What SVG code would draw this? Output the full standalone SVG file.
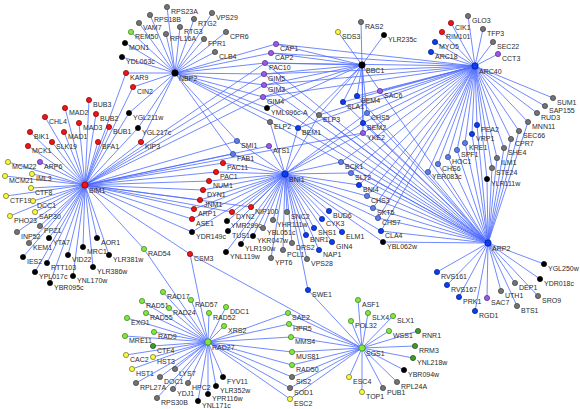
<svg xmlns="http://www.w3.org/2000/svg" width="580" height="409" viewBox="0 0 580 409">
<style>
.e{fill:none;stroke:#4d6bff;stroke-width:0.8}
circle{r:2.6;stroke-width:0.7}
.h circle{r:3.2}
text{font-family:"Liberation Sans",Arial,sans-serif;font-size:7px;fill:#2a2a2a}
.gy circle{fill:#737373;stroke:#3c3c3c}
.k circle{fill:#000;stroke:#000}
.r circle{fill:#f01414;stroke:#7a0000}
.gn circle{fill:#7ee83c;stroke:#3d7a1c}
.dg circle{fill:#3f9a2a;stroke:#1f4d14}
.yl circle{fill:#f8f83c;stroke:#6e6e20}
.b circle{fill:#0b3df2;stroke:#001a80}
.lb circle{fill:#5c7de8;stroke:#2a3f8a}
.p circle{fill:#9a5ae8;stroke:#4c2a80}
</style>
<rect width="580" height="409" fill="#fff"/>
<g id="connectors">
<path class="e" d="M175 73L167 7M175 73L212 13M175 73L150 15M175 73L139 23M175 73L194 19M175 73L180 27M175 73L166 34M175 73L204 39M175 73L226 32M175 73L215 52M175 73L131 32M175 73L125 43M175 73L122 57M175 73L126 73M175 73L133 87M175 73L129 113M175 73L138 128M175 73L141 142M175 73L276 44M175 73L271 53M175 73L265 63M175 73L264 74M175 73L264 85M175 73L263 97M175 73L267 108M175 73L270 122M175 73L237 141M175 73L233 154M175 73L298 128"/>
<path class="e" d="M85 185L89 100M85 185L65 108M85 185L96 114M85 185L45 117M85 185L79 123M85 185L109 127M85 185L30 132M85 185L64 132M85 185L28 146M85 185L52 142M85 185L98 142M85 185L141 142M85 185L129 113M85 185L138 128M85 185L8 162M85 185L40 162M85 185L5 176M85 185L32 174M85 185L31 188M85 185L6 196M85 185L33 201M85 185L35 212M85 185L10 216M85 185L40 226M85 185L17 232M85 185L49 238M85 185L29 243M85 185L97 238M85 185L83 247M85 185L68 255M85 185L109 255M85 185L23 257M85 185L47 263M85 185L93 267M85 185L35 272M85 185L73 276M85 185L50 283M85 185L126 73M85 185L133 87M85 185L237 141M85 185L233 154M85 185L269 146M85 185L223 163M85 185L216 172M85 185L209 181M85 185L203 190M85 185L200 200M85 185L194 209M85 185L192 219M85 185L251 207M85 185L232 212M85 185L192 232M85 185L144 249M85 185L190 254M85 185L265 63M85 185L264 74M85 185L264 85M85 185L263 97M85 185L363 133"/>
<path class="e" d="M285 174L237 141M285 174L269 146M285 174L233 154M285 174L223 163M285 174L216 172M285 174L209 181M285 174L203 190M285 174L200 200M285 174L194 209M285 174L192 219M285 174L251 207M285 174L232 212M285 174L192 232M285 174L227 221M285 174L228 231M285 174L253 236M285 174L241 244M285 174L226 252M285 174L287 212M285 174L273 220M285 174L263 228M285 174L292 243M285 174L283 250M285 174L271 258M285 174L307 259M285 174L329 211M285 174L322 219M285 174L314 228M285 174L342 232M285 174L306 235M285 174L332 242M285 174L319 250M285 174L341 162M285 174L351 173M285 174L359 185M285 174L367 196M285 174L373 208M285 174L378 218M285 174L381 231M285 174L383 242M285 174L308 290M285 174L298 128M285 174L319 115M285 174L367 113M285 174L363 123M285 174L363 133M285 174L270 122"/>
<path class="e" d="M362 65L361 22M362 65L338 32M362 65L384 35M362 65L276 44M362 65L271 53M362 65L265 63M362 65L264 74M362 65L264 85M362 65L263 97M362 65L267 108M362 65L380 91M362 65L357 96M362 65L343 102M362 65L319 115M362 65L367 113M362 65L363 123M362 65L298 128M362 65L363 133"/>
<path class="e" d="M475 66L468 16M475 66L451 23M475 66L483 29M475 66L442 32M475 66L435 42M475 66L493 42M475 66L431 52M475 66L498 54M475 66L553 98M475 66L545 106M475 66L537 113M475 66L528 122M475 66L519 131M475 66L511 139M475 66L504 148M475 66L497 158M475 66L492 168M475 66L487 179M475 66L477 125M475 66L472 134M475 66L465 143M475 66L457 150M475 66L448 157M475 66L438 164M475 66L428 172M475 66L341 162M475 66L351 173M475 66L359 185M475 66L367 196M475 66L373 208M475 66L378 218M475 66L381 231M475 66L380 91M475 66L357 96M475 66L343 102M475 66L367 113M475 66L363 123M475 66L363 133M475 66L298 128M475 66L319 115M475 66L276 44M475 66L271 53M475 66L265 63M475 66L264 74M475 66L264 85M475 66L263 97"/>
<path class="e" d="M488 243L477 125M488 243L472 134M488 243L465 143M488 243L457 150M488 243L448 157M488 243L438 164M488 243L428 172M488 243L528 122M488 243L519 131M488 243L511 139M488 243L504 148M488 243L497 158M488 243L492 168M488 243L487 179M488 243L437 272M488 243L447 285M488 243L459 297M488 243L487 298M488 243L475 311M488 243L501 291M488 243L515 283M488 243L517 306M488 243L540 279M488 243L538 296M488 243L544 264M488 243L341 162M488 243L351 173M488 243L359 185M488 243L367 196M488 243L373 208M488 243L378 218M488 243L381 231M488 243L383 242M488 243L380 91M488 243L357 96M488 243L343 102M488 243L367 113M488 243L363 123M488 243L363 133M488 243L298 128M488 243L319 115M488 243L270 122M488 243L265 63M488 243L264 74M488 243L264 85M488 243L263 97"/>
<path class="e" d="M208 342L163 292M208 342L191 300M208 342L142 301M208 342L169 308M208 342L146 313M208 342L226 307M208 342L209 313M208 342L224 326M208 342L127 318M208 342L154 332M208 342L125 336M208 342L153 346M208 342L126 355M208 342L153 357M208 342L132 369M208 342L175 369M208 342L160 377M208 342L188 383M208 342L173 389M208 342L136 383M208 342L157 398M208 342L223 377M208 342L216 386M208 342L208 394M208 342L198 401M208 342L288 313M208 342L289 324M208 342L291 337M208 342L292 352M208 342L292 365M208 342L292 377M208 342L290 388M208 342L290 399M208 342L144 249M208 342L190 254"/>
<path class="e" d="M362 348L358 300M362 348L368 313M362 348L393 316M362 348L351 321M362 348L389 331M362 348L418 331M362 348L415 346M362 348L413 358M362 348L404 370M362 348L397 382M362 348L383 388M362 348L362 392M362 348L349 377M362 348L288 313M362 348L289 324M362 348L291 337M362 348L292 352M362 348L292 365M362 348L292 377M362 348L290 388M362 348L290 399M362 348L308 290M362 348L190 254"/>
</g>
<g id="nodes">
<g id="RPS23A" class="gy"><circle cx="167" cy="7"/><text x="171" y="14">RPS23A</text></g>
<g id="VPS29" class="gy"><circle cx="212" cy="13"/><text x="216" y="20">VPS29</text></g>
<g id="RPS18B" class="gy"><circle cx="150" cy="15"/><text x="154" y="22">RPS18B</text></g>
<g id="VAM7" class="gy"><circle cx="139" cy="23"/><text x="143" y="30">VAM7</text></g>
<g id="RTG2" class="gy"><circle cx="194" cy="19"/><text x="198" y="26">RTG2</text></g>
<g id="RTG3" class="gy"><circle cx="180" cy="27"/><text x="184" y="34">RTG3</text></g>
<g id="RPL16A" class="gy"><circle cx="166" cy="34"/><text x="170" y="41">RPL16A</text></g>
<g id="FPR1" class="gy"><circle cx="204" cy="39"/><text x="208" y="46">FPR1</text></g>
<g id="CPR6" class="gy"><circle cx="226" cy="32"/><text x="230" y="39">CPR6</text></g>
<g id="CLB4" class="gy"><circle cx="215" cy="52"/><text x="219" y="59">CLB4</text></g>
<g id="REM50" class="gn"><circle cx="131" cy="32"/><text x="135" y="39">REM50</text></g>
<g id="MON1" class="k"><circle cx="125" cy="43"/><text x="129" y="50">MON1</text></g>
<g id="YDL063c" class="k"><circle cx="122" cy="57"/><text x="126" y="64">YDL063c</text></g>
<g id="KAR9" class="r"><circle cx="126" cy="73"/><text x="130" y="80">KAR9</text></g>
<g id="CIN2" class="r"><circle cx="133" cy="87"/><text x="137" y="94">CIN2</text></g>
<g id="BUB3" class="r"><circle cx="89" cy="100"/><text x="93" y="107">BUB3</text></g>
<g id="MAD2" class="r"><circle cx="65" cy="108"/><text x="69" y="115">MAD2</text></g>
<g id="BUB2" class="r"><circle cx="96" cy="114"/><text x="100" y="121">BUB2</text></g>
<g id="CHL4" class="r"><circle cx="45" cy="117"/><text x="49" y="124">CHL4</text></g>
<g id="MAD3" class="r"><circle cx="79" cy="123"/><text x="83" y="130">MAD3</text></g>
<g id="BUB1" class="r"><circle cx="109" cy="127"/><text x="113" y="134">BUB1</text></g>
<g id="BIK1" class="r"><circle cx="30" cy="132"/><text x="34" y="139">BIK1</text></g>
<g id="MAD1" class="r"><circle cx="64" cy="132"/><text x="68" y="139">MAD1</text></g>
<g id="MCK1" class="r"><circle cx="28" cy="146"/><text x="32" y="153">MCK1</text></g>
<g id="SLK19" class="r"><circle cx="52" cy="142"/><text x="56" y="149">SLK19</text></g>
<g id="BFA1" class="r"><circle cx="98" cy="142"/><text x="102" y="149">BFA1</text></g>
<g id="KIP3" class="r"><circle cx="141" cy="142"/><text x="145" y="149">KIP3</text></g>
<g id="YGL211w" class="k"><circle cx="129" cy="113"/><text x="133" y="120">YGL211w</text></g>
<g id="YGL217c" class="k"><circle cx="138" cy="128"/><text x="142" y="135">YGL217c</text></g>
<g id="MCM22" class="yl"><circle cx="8" cy="162"/><text x="12" y="169">MCM22</text></g>
<g id="ARP6" class="p"><circle cx="40" cy="162"/><text x="44" y="169">ARP6</text></g>
<g id="MCM21" class="yl"><circle cx="5" cy="176"/><text x="9" y="183">MCM21</text></g>
<g id="IML3" class="yl"><circle cx="32" cy="174"/><text x="36" y="181">IML3</text></g>
<g id="CTF8" class="yl"><circle cx="31" cy="188"/><text x="35" y="195">CTF8</text></g>
<g id="CTF19" class="yl"><circle cx="6" cy="196"/><text x="10" y="203">CTF19</text></g>
<g id="DCC1" class="yl"><circle cx="33" cy="201"/><text x="37" y="208">DCC1</text></g>
<g id="SAP30" class="yl"><circle cx="35" cy="212"/><text x="39" y="219">SAP30</text></g>
<g id="PHO23" class="yl"><circle cx="10" cy="216"/><text x="14" y="223">PHO23</text></g>
<g id="PPZ1" class="gy"><circle cx="40" cy="226"/><text x="44" y="233">PPZ1</text></g>
<g id="INP52" class="gy"><circle cx="17" cy="232"/><text x="21" y="239">INP52</text></g>
<g id="YTA7" class="k"><circle cx="49" cy="238"/><text x="53" y="245">YTA7</text></g>
<g id="KEM1" class="gy"><circle cx="29" cy="243"/><text x="33" y="250">KEM1</text></g>
<g id="AOR1" class="k"><circle cx="97" cy="238"/><text x="101" y="245">AOR1</text></g>
<g id="MRC1" class="k"><circle cx="83" cy="247"/><text x="87" y="254">MRC1</text></g>
<g id="VID22" class="k"><circle cx="68" cy="255"/><text x="72" y="262">VID22</text></g>
<g id="YLR381w" class="k"><circle cx="109" cy="255"/><text x="113" y="262">YLR381w</text></g>
<g id="IES2" class="k"><circle cx="23" cy="257"/><text x="27" y="264">IES2</text></g>
<g id="RTT103" class="k"><circle cx="47" cy="263"/><text x="51" y="270">RTT103</text></g>
<g id="YLR386w" class="k"><circle cx="93" cy="267"/><text x="97" y="274">YLR386w</text></g>
<g id="YPL017c" class="k"><circle cx="35" cy="272"/><text x="39" y="279">YPL017c</text></g>
<g id="YNL170w" class="k"><circle cx="73" cy="276"/><text x="77" y="283">YNL170w</text></g>
<g id="YBR095c" class="k"><circle cx="50" cy="283"/><text x="54" y="290">YBR095c</text></g>
<g id="SMI1" class="lb"><circle cx="237" cy="141"/><text x="241" y="148">SMI1</text></g>
<g id="ATS1" class="p"><circle cx="269" cy="146"/><text x="273" y="153">ATS1</text></g>
<g id="FAB1" class="lb"><circle cx="233" cy="154"/><text x="237" y="161">FAB1</text></g>
<g id="PAC11" class="r"><circle cx="223" cy="163"/><text x="227" y="170">PAC11</text></g>
<g id="PAC1" class="r"><circle cx="216" cy="172"/><text x="220" y="179">PAC1</text></g>
<g id="NUM1" class="r"><circle cx="209" cy="181"/><text x="213" y="188">NUM1</text></g>
<g id="DYN1" class="r"><circle cx="203" cy="190"/><text x="207" y="197">DYN1</text></g>
<g id="JNM1" class="r"><circle cx="200" cy="200"/><text x="204" y="207">JNM1</text></g>
<g id="ARP1" class="r"><circle cx="194" cy="209"/><text x="198" y="216">ARP1</text></g>
<g id="ASE1" class="r"><circle cx="192" cy="219"/><text x="196" y="226">ASE1</text></g>
<g id="NIP100" class="r"><circle cx="251" cy="207"/><text x="255" y="214">NIP100</text></g>
<g id="DYN2" class="r"><circle cx="232" cy="212"/><text x="236" y="219">DYN2</text></g>
<g id="YDR149c" class="k"><circle cx="192" cy="232"/><text x="196" y="239">YDR149c</text></g>
<g id="YMR299c" class="k"><circle cx="227" cy="221"/><text x="231" y="228">YMR299c</text></g>
<g id="TUS1" class="k"><circle cx="228" cy="231"/><text x="232" y="238">TUS1</text></g>
<g id="YKR047w" class="k"><circle cx="253" cy="236"/><text x="257" y="243">YKR047w</text></g>
<g id="YLR190w" class="k"><circle cx="241" cy="244"/><text x="245" y="251">YLR190w</text></g>
<g id="YNL119w" class="k"><circle cx="226" cy="252"/><text x="230" y="259">YNL119w</text></g>
<g id="RAD54" class="gn"><circle cx="144" cy="249"/><text x="148" y="256">RAD54</text></g>
<g id="CSM3" class="r"><circle cx="190" cy="254"/><text x="194" y="261">CSM3</text></g>
<g id="SNC2" class="gy"><circle cx="287" cy="212"/><text x="291" y="219">SNC2</text></g>
<g id="YHR111w" class="gy"><circle cx="273" cy="220"/><text x="277" y="227">YHR111w</text></g>
<g id="YBL051c" class="gy"><circle cx="263" cy="228"/><text x="267" y="235">YBL051c</text></g>
<g id="DRS2" class="gy"><circle cx="292" cy="243"/><text x="296" y="250">DRS2</text></g>
<g id="PCL1" class="gy"><circle cx="283" cy="250"/><text x="287" y="257">PCL1</text></g>
<g id="YPT6" class="gy"><circle cx="271" cy="258"/><text x="275" y="265">YPT6</text></g>
<g id="VPS28" class="gy"><circle cx="307" cy="259"/><text x="311" y="266">VPS28</text></g>
<g id="BUD6" class="b"><circle cx="329" cy="211"/><text x="333" y="218">BUD6</text></g>
<g id="CYK3" class="b"><circle cx="322" cy="219"/><text x="326" y="226">CYK3</text></g>
<g id="SHS1" class="b"><circle cx="314" cy="228"/><text x="318" y="235">SHS1</text></g>
<g id="ELM1" class="b"><circle cx="342" cy="232"/><text x="346" y="239">ELM1</text></g>
<g id="BNR1" class="b"><circle cx="306" cy="235"/><text x="310" y="242">BNR1</text></g>
<g id="GIN4" class="b"><circle cx="332" cy="242"/><text x="336" y="249">GIN4</text></g>
<g id="NAP1" class="b"><circle cx="319" cy="250"/><text x="323" y="257">NAP1</text></g>
<g id="BCK1" class="lb"><circle cx="341" cy="162"/><text x="345" y="169">BCK1</text></g>
<g id="SLT2" class="lb"><circle cx="351" cy="173"/><text x="355" y="180">SLT2</text></g>
<g id="BNI4" class="b"><circle cx="359" cy="185"/><text x="363" y="192">BNI4</text></g>
<g id="CHS3" class="lb"><circle cx="367" cy="196"/><text x="371" y="203">CHS3</text></g>
<g id="SKT5" class="lb"><circle cx="373" cy="208"/><text x="377" y="215">SKT5</text></g>
<g id="CHS7" class="lb"><circle cx="378" cy="218"/><text x="382" y="225">CHS7</text></g>
<g id="CLA4" class="b"><circle cx="381" cy="231"/><text x="385" y="238">CLA4</text></g>
<g id="YBL062w" class="k"><circle cx="383" cy="242"/><text x="387" y="249">YBL062w</text></g>
<g id="SWE1" class="b"><circle cx="308" cy="290"/><text x="312" y="297">SWE1</text></g>
<g id="RAS2" class="gy"><circle cx="361" cy="22"/><text x="365" y="29">RAS2</text></g>
<g id="SDS3" class="yl"><circle cx="338" cy="32"/><text x="342" y="39">SDS3</text></g>
<g id="YLR235c" class="k"><circle cx="384" cy="35"/><text x="388" y="42">YLR235c</text></g>
<g id="CAP1" class="p"><circle cx="276" cy="44"/><text x="280" y="51">CAP1</text></g>
<g id="CAP2" class="p"><circle cx="271" cy="53"/><text x="275" y="60">CAP2</text></g>
<g id="PAC10" class="p"><circle cx="265" cy="63"/><text x="269" y="70">PAC10</text></g>
<g id="GIM5" class="p"><circle cx="264" cy="74"/><text x="268" y="81">GIM5</text></g>
<g id="GIM3" class="p"><circle cx="264" cy="85"/><text x="268" y="92">GIM3</text></g>
<g id="GIM4" class="p"><circle cx="263" cy="97"/><text x="267" y="104">GIM4</text></g>
<g id="YML096c-A" class="k"><circle cx="267" cy="108"/><text x="271" y="115">YML096c-A</text></g>
<g id="ELP2" class="gy"><circle cx="270" cy="122"/><text x="274" y="129">ELP2</text></g>
<g id="SAC6" class="p"><circle cx="380" cy="91"/><text x="384" y="98">SAC6</text></g>
<g id="BEM4" class="b"><circle cx="357" cy="96"/><text x="361" y="103">BEM4</text></g>
<g id="SLA1" class="b"><circle cx="343" cy="102"/><text x="347" y="109">SLA1</text></g>
<g id="ELP3" class="gy"><circle cx="319" cy="115"/><text x="323" y="122">ELP3</text></g>
<g id="CHS5" class="lb"><circle cx="367" cy="113"/><text x="371" y="120">CHS5</text></g>
<g id="BEM2" class="b"><circle cx="363" cy="123"/><text x="367" y="130">BEM2</text></g>
<g id="BEM1" class="b"><circle cx="298" cy="128"/><text x="302" y="135">BEM1</text></g>
<g id="YKE2" class="p"><circle cx="363" cy="133"/><text x="367" y="140">YKE2</text></g>
<g id="GLO3" class="gy"><circle cx="468" cy="16"/><text x="472" y="23">GLO3</text></g>
<g id="CIK1" class="r"><circle cx="451" cy="23"/><text x="455" y="30">CIK1</text></g>
<g id="TFP3" class="gy"><circle cx="483" cy="29"/><text x="487" y="36">TFP3</text></g>
<g id="RIM101" class="r"><circle cx="442" cy="32"/><text x="446" y="39">RIM101</text></g>
<g id="MYO5" class="b"><circle cx="435" cy="42"/><text x="439" y="49">MYO5</text></g>
<g id="SEC22" class="gy"><circle cx="493" cy="42"/><text x="497" y="49">SEC22</text></g>
<g id="ARC18" class="b"><circle cx="431" cy="52"/><text x="435" y="59">ARC18</text></g>
<g id="CCT3" class="p"><circle cx="498" cy="54"/><text x="502" y="61">CCT3</text></g>
<g id="SUM1" class="gy"><circle cx="553" cy="98"/><text x="557" y="105">SUM1</text></g>
<g id="SAP155" class="gy"><circle cx="545" cy="106"/><text x="549" y="113">SAP155</text></g>
<g id="RUD3" class="gy"><circle cx="537" cy="113"/><text x="541" y="120">RUD3</text></g>
<g id="MNN11" class="gy"><circle cx="528" cy="122"/><text x="532" y="129">MNN11</text></g>
<g id="SEC66" class="gy"><circle cx="519" cy="131"/><text x="523" y="138">SEC66</text></g>
<g id="CPR7" class="gy"><circle cx="511" cy="139"/><text x="515" y="146">CPR7</text></g>
<g id="SHE4" class="gy"><circle cx="504" cy="148"/><text x="508" y="155">SHE4</text></g>
<g id="ILM1" class="gy"><circle cx="497" cy="158"/><text x="501" y="165">ILM1</text></g>
<g id="STE24" class="gy"><circle cx="492" cy="168"/><text x="496" y="175">STE24</text></g>
<g id="YLR111w" class="k"><circle cx="487" cy="179"/><text x="491" y="186">YLR111w</text></g>
<g id="PEA2" class="b"><circle cx="477" cy="125"/><text x="481" y="132">PEA2</text></g>
<g id="VRP1" class="b"><circle cx="472" cy="134"/><text x="476" y="141">VRP1</text></g>
<g id="KRE1" class="lb"><circle cx="465" cy="143"/><text x="469" y="150">KRE1</text></g>
<g id="SPF1" class="lb"><circle cx="457" cy="150"/><text x="461" y="157">SPF1</text></g>
<g id="HOC1" class="lb"><circle cx="448" cy="157"/><text x="452" y="164">HOC1</text></g>
<g id="CHS6" class="lb"><circle cx="438" cy="164"/><text x="442" y="171">CHS6</text></g>
<g id="YER083c" class="lb"><circle cx="428" cy="172"/><text x="432" y="179">YER083c</text></g>
<g id="RVS161" class="b"><circle cx="437" cy="272"/><text x="441" y="279">RVS161</text></g>
<g id="RVS167" class="b"><circle cx="447" cy="285"/><text x="451" y="292">RVS167</text></g>
<g id="PRK1" class="b"><circle cx="459" cy="297"/><text x="463" y="304">PRK1</text></g>
<g id="SAC7" class="p"><circle cx="487" cy="298"/><text x="491" y="305">SAC7</text></g>
<g id="RGD1" class="b"><circle cx="475" cy="311"/><text x="479" y="318">RGD1</text></g>
<g id="UTH1" class="gy"><circle cx="501" cy="291"/><text x="505" y="298">UTH1</text></g>
<g id="DEP1" class="gy"><circle cx="515" cy="283"/><text x="519" y="290">DEP1</text></g>
<g id="BTS1" class="gy"><circle cx="517" cy="306"/><text x="521" y="313">BTS1</text></g>
<g id="YDR018c" class="k"><circle cx="540" cy="279"/><text x="544" y="286">YDR018c</text></g>
<g id="SRO9" class="gy"><circle cx="538" cy="296"/><text x="542" y="303">SRO9</text></g>
<g id="YGL250w" class="k"><circle cx="544" cy="264"/><text x="548" y="271">YGL250w</text></g>
<g id="RAD17" class="gn"><circle cx="163" cy="292"/><text x="167" y="299">RAD17</text></g>
<g id="RAD57" class="gn"><circle cx="191" cy="300"/><text x="195" y="307">RAD57</text></g>
<g id="RAD51" class="gn"><circle cx="142" cy="301"/><text x="146" y="308">RAD51</text></g>
<g id="RAD24" class="gn"><circle cx="169" cy="308"/><text x="173" y="315">RAD24</text></g>
<g id="RAD55" class="gn"><circle cx="146" cy="313"/><text x="150" y="320">RAD55</text></g>
<g id="DDC1" class="gn"><circle cx="226" cy="307"/><text x="230" y="314">DDC1</text></g>
<g id="RAD52" class="gn"><circle cx="209" cy="313"/><text x="213" y="320">RAD52</text></g>
<g id="XRS2" class="gn"><circle cx="224" cy="326"/><text x="228" y="333">XRS2</text></g>
<g id="EXO1" class="gn"><circle cx="127" cy="318"/><text x="131" y="325">EXO1</text></g>
<g id="RAD9" class="gn"><circle cx="154" cy="332"/><text x="158" y="339">RAD9</text></g>
<g id="MRE11" class="gn"><circle cx="125" cy="336"/><text x="129" y="343">MRE11</text></g>
<g id="CTF4" class="dg"><circle cx="153" cy="346"/><text x="157" y="353">CTF4</text></g>
<g id="CAC2" class="yl"><circle cx="126" cy="355"/><text x="130" y="362">CAC2</text></g>
<g id="HST3" class="yl"><circle cx="153" cy="357"/><text x="157" y="364">HST3</text></g>
<g id="HST1" class="yl"><circle cx="132" cy="369"/><text x="136" y="376">HST1</text></g>
<g id="LYS7" class="gy"><circle cx="175" cy="369"/><text x="179" y="376">LYS7</text></g>
<g id="DOC1" class="gy"><circle cx="160" cy="377"/><text x="164" y="384">DOC1</text></g>
<g id="HPC2" class="gy"><circle cx="188" cy="383"/><text x="192" y="390">HPC2</text></g>
<g id="YDJ1" class="gy"><circle cx="173" cy="389"/><text x="177" y="396">YDJ1</text></g>
<g id="RPL27A" class="gy"><circle cx="136" cy="383"/><text x="140" y="390">RPL27A</text></g>
<g id="RPS30B" class="gy"><circle cx="157" cy="398"/><text x="161" y="405">RPS30B</text></g>
<g id="FYV11" class="k"><circle cx="223" cy="377"/><text x="227" y="384">FYV11</text></g>
<g id="YLR352w" class="k"><circle cx="216" cy="386"/><text x="220" y="393">YLR352w</text></g>
<g id="YPR116w" class="k"><circle cx="208" cy="394"/><text x="212" y="401">YPR116w</text></g>
<g id="YNL171c" class="k"><circle cx="198" cy="401"/><text x="202" y="408">YNL171c</text></g>
<g id="ASF1" class="gn"><circle cx="358" cy="300"/><text x="362" y="307">ASF1</text></g>
<g id="SLX4" class="gn"><circle cx="368" cy="313"/><text x="372" y="320">SLX4</text></g>
<g id="SLX1" class="gn"><circle cx="393" cy="316"/><text x="397" y="323">SLX1</text></g>
<g id="POL32" class="gn"><circle cx="351" cy="321"/><text x="355" y="328">POL32</text></g>
<g id="WSS1" class="gn"><circle cx="389" cy="331"/><text x="393" y="338">WSS1</text></g>
<g id="RNR1" class="dg"><circle cx="418" cy="331"/><text x="422" y="338">RNR1</text></g>
<g id="RRM3" class="dg"><circle cx="415" cy="346"/><text x="419" y="353">RRM3</text></g>
<g id="YNL218w" class="dg"><circle cx="413" cy="358"/><text x="417" y="365">YNL218w</text></g>
<g id="YBR094w" class="k"><circle cx="404" cy="370"/><text x="408" y="377">YBR094w</text></g>
<g id="RPL24A" class="gy"><circle cx="397" cy="382"/><text x="401" y="389">RPL24A</text></g>
<g id="PUB1" class="gy"><circle cx="383" cy="388"/><text x="387" y="395">PUB1</text></g>
<g id="TOP1" class="yl"><circle cx="362" cy="392"/><text x="366" y="399">TOP1</text></g>
<g id="ESC4" class="yl"><circle cx="349" cy="377"/><text x="353" y="384">ESC4</text></g>
<g id="SAE2" class="gn"><circle cx="288" cy="313"/><text x="292" y="320">SAE2</text></g>
<g id="HPR5" class="gn"><circle cx="289" cy="324"/><text x="293" y="331">HPR5</text></g>
<g id="MMS4" class="gn"><circle cx="291" cy="337"/><text x="295" y="344">MMS4</text></g>
<g id="MUS81" class="gn"><circle cx="292" cy="352"/><text x="296" y="359">MUS81</text></g>
<g id="RAD50" class="gn"><circle cx="292" cy="365"/><text x="296" y="372">RAD50</text></g>
<g id="SIS2" class="gy"><circle cx="292" cy="377"/><text x="296" y="384">SIS2</text></g>
<g id="SOD1" class="gy"><circle cx="290" cy="388"/><text x="294" y="395">SOD1</text></g>
<g id="ESC2" class="yl"><circle cx="290" cy="399"/><text x="294" y="406">ESC2</text></g>
<g id="NBP2" class="k h"><circle cx="175" cy="73"/><text x="179" y="81">NBP2</text></g>
<g id="BIM1" class="r h"><circle cx="85" cy="185"/><text x="89" y="193">BIM1</text></g>
<g id="BNI1" class="b h"><circle cx="285" cy="174"/><text x="289" y="182">BNI1</text></g>
<g id="BBC1" class="k h"><circle cx="362" cy="65"/><text x="366" y="73">BBC1</text></g>
<g id="ARC40" class="b h"><circle cx="475" cy="66"/><text x="479" y="74">ARC40</text></g>
<g id="ARP2" class="b h"><circle cx="488" cy="243"/><text x="492" y="251">ARP2</text></g>
<g id="RAD27" class="gn h"><circle cx="208" cy="342"/><text x="212" y="350">RAD27</text></g>
<g id="SGS1" class="gn h"><circle cx="362" cy="348"/><text x="366" y="356">SGS1</text></g>
</g>
</svg>
